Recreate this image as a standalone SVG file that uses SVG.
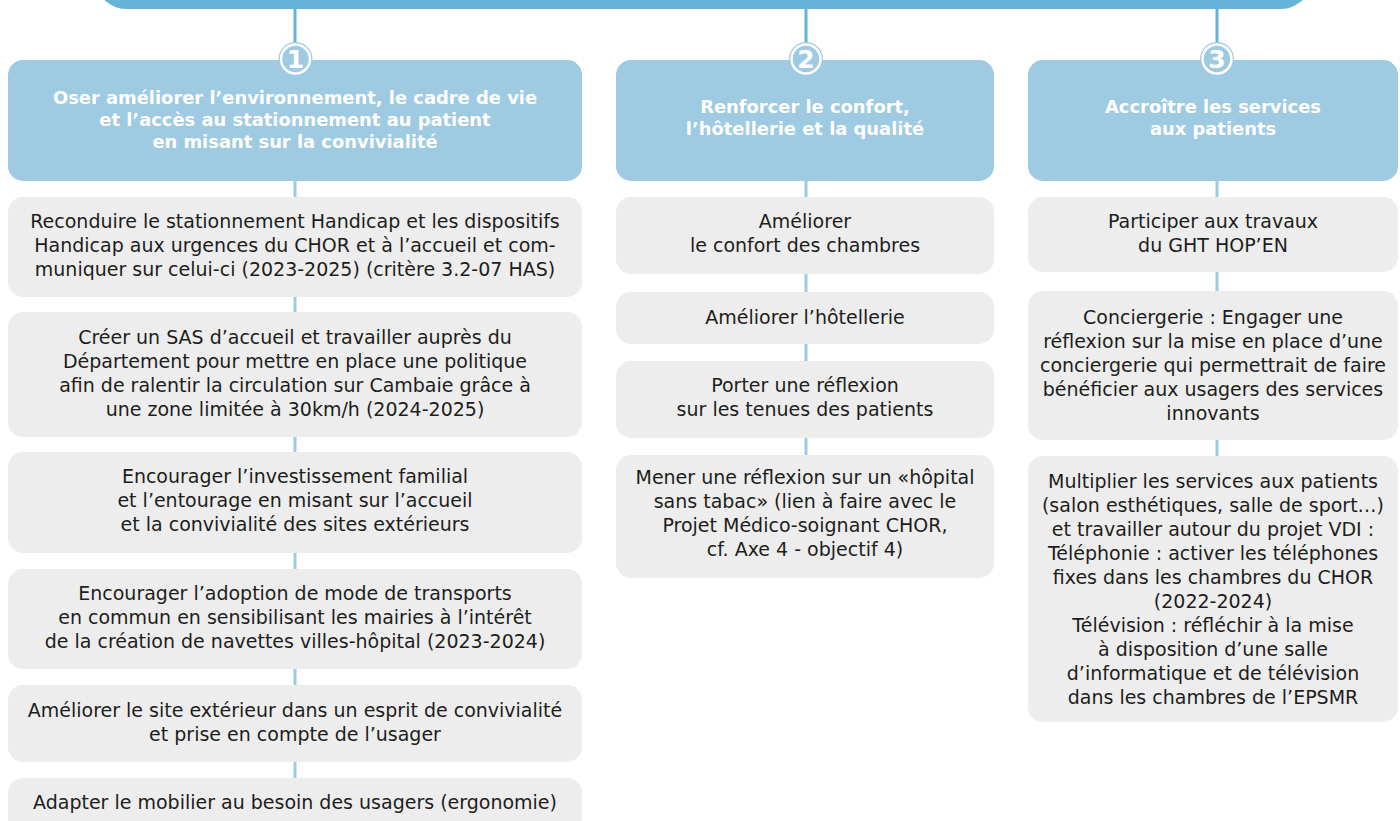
<svg xmlns="http://www.w3.org/2000/svg" width="1400" height="821" viewBox="0 0 1400 821">
<style>
.head{fill:#9ECAE2}
.item{fill:#EDEDED}
.ht{font-family:"DejaVu Sans","Liberation Sans",sans-serif;font-weight:bold;font-size:17.9px;fill:#FFFFFF;text-anchor:middle}
.bt{font-family:"DejaVu Sans","Liberation Sans",sans-serif;font-size:19px;fill:#1D1D1B;text-anchor:middle}
.num{font-family:"DejaVu Sans","Liberation Sans",sans-serif;font-weight:bold;font-size:25px;fill:#FFFFFF;text-anchor:middle}
.top{stroke:#65B3D6;stroke-width:3;fill:none}
.lnk{stroke:#9ECAE2;stroke-width:3;fill:none}
</style>
<rect id="topbar" x="98" y="-40" width="1211" height="49" rx="29" fill="#65B3D6"/>
<g id="connectors">
<line class="top" x1="295" y1="9" x2="295" y2="44"/>
<line class="top" x1="806" y1="9" x2="806" y2="44"/>
<line class="top" x1="1217" y1="9" x2="1217" y2="44"/>
<line class="lnk" x1="295" y1="181" x2="295" y2="197"/>
<line class="lnk" x1="295" y1="297" x2="295" y2="312"/>
<line class="lnk" x1="295" y1="437" x2="295" y2="452"/>
<line class="lnk" x1="295" y1="553" x2="295" y2="569"/>
<line class="lnk" x1="295" y1="669" x2="295" y2="685"/>
<line class="lnk" x1="295" y1="762" x2="295" y2="778"/>
<line class="lnk" x1="806" y1="181" x2="806" y2="197"/>
<line class="lnk" x1="806" y1="274" x2="806" y2="292"/>
<line class="lnk" x1="806" y1="344" x2="806" y2="361"/>
<line class="lnk" x1="806" y1="438" x2="806" y2="455"/>
<line class="lnk" x1="1217" y1="181" x2="1217" y2="197"/>
<line class="lnk" x1="1217" y1="272" x2="1217" y2="291"/>
<line class="lnk" x1="1217" y1="440" x2="1217" y2="456"/>
</g>
<g id="axis1">
<rect class="head" x="8" y="60" width="574" height="121" rx="15"/>
<text class="ht"><tspan x="295" y="104">Oser améliorer l’environnement, le cadre de vie</tspan><tspan x="295" y="126">et l’accès au stationnement au patient</tspan><tspan x="295" y="148">en misant sur la convivialité</tspan></text>
<circle cx="295.5" cy="59" r="17" fill="#9ECAE2"/>
<circle cx="295.5" cy="59" r="14.5" fill="#9ECAE2" stroke="#FFFFFF" stroke-width="2.5"/>
<text class="num" x="295.5" y="68">1</text>
</g>
<g id="axis2">
<rect class="head" x="616" y="60" width="378" height="121" rx="15"/>
<text class="ht"><tspan x="805" y="113">Renforcer le confort,</tspan><tspan x="805" y="135">l’hôtellerie et la qualité</tspan></text>
<circle cx="806" cy="59" r="17" fill="#9ECAE2"/>
<circle cx="806" cy="59" r="14.5" fill="#9ECAE2" stroke="#FFFFFF" stroke-width="2.5"/>
<text class="num" x="806" y="68">2</text>
</g>
<g id="axis3">
<rect class="head" x="1028" y="60" width="370" height="121" rx="15"/>
<text class="ht"><tspan x="1213" y="113">Accroître les services</tspan><tspan x="1213" y="135">aux patients</tspan></text>
<circle cx="1217" cy="59" r="17" fill="#9ECAE2"/>
<circle cx="1217" cy="59" r="14.5" fill="#9ECAE2" stroke="#FFFFFF" stroke-width="2.5"/>
<text class="num" x="1217" y="68">3</text>
</g>
<g id="c1n1">
<rect class="item" x="8" y="197" width="574" height="100" rx="15"/>
<text class="bt"><tspan x="295" y="228">Reconduire le stationnement Handicap et les dispositifs</tspan><tspan x="295" y="252">Handicap aux urgences du CHOR et à l’accueil et com-</tspan><tspan x="295" y="276">muniquer sur celui-ci (2023-2025) (critère 3.2-07 HAS)</tspan></text>
</g>
<g id="c1n2">
<rect class="item" x="8" y="312" width="574" height="125" rx="15"/>
<text class="bt"><tspan x="295" y="344">Créer un SAS d’accueil et travailler auprès du</tspan><tspan x="295" y="368">Département pour mettre en place une politique</tspan><tspan x="295" y="392">afin de ralentir la circulation sur Cambaie grâce à</tspan><tspan x="295" y="416">une zone limitée à 30km/h (2024-2025)</tspan></text>
</g>
<g id="c1n3">
<rect class="item" x="8" y="452" width="574" height="101" rx="15"/>
<text class="bt"><tspan x="295" y="483">Encourager l’investissement familial</tspan><tspan x="295" y="507">et l’entourage en misant sur l’accueil</tspan><tspan x="295" y="531">et la convivialité des sites extérieurs</tspan></text>
</g>
<g id="c1n4">
<rect class="item" x="8" y="569" width="574" height="100" rx="15"/>
<text class="bt"><tspan x="295" y="600">Encourager l’adoption de mode de transports</tspan><tspan x="295" y="624">en commun en sensibilisant les mairies à l’intérêt</tspan><tspan x="295" y="648">de la création de navettes villes-hôpital (2023-2024)</tspan></text>
</g>
<g id="c1n5">
<rect class="item" x="8" y="685" width="574" height="77" rx="15"/>
<text class="bt"><tspan x="295" y="717">Améliorer le site extérieur dans un esprit de convivialité</tspan><tspan x="295" y="741">et prise en compte de l’usager</tspan></text>
</g>
<g id="c1n6">
<rect class="item" x="8" y="778" width="574" height="70" rx="15"/>
<text class="bt" x="295" y="809">Adapter le mobilier au besoin des usagers (ergonomie)</text>
</g>
<g id="c2n1">
<rect class="item" x="616" y="197" width="378" height="77" rx="15"/>
<text class="bt"><tspan x="805" y="228">Améliorer</tspan><tspan x="805" y="252">le confort des chambres</tspan></text>
</g>
<g id="c2n2">
<rect class="item" x="616" y="292" width="378" height="52" rx="15"/>
<text class="bt" x="805" y="324">Améliorer l’hôtellerie</text>
</g>
<g id="c2n3">
<rect class="item" x="616" y="361" width="378" height="77" rx="15"/>
<text class="bt"><tspan x="805" y="392">Porter une réflexion</tspan><tspan x="805" y="416">sur les tenues des patients</tspan></text>
</g>
<g id="c2n4">
<rect class="item" x="616" y="455" width="378" height="123" rx="15"/>
<text class="bt"><tspan x="805" y="484">Mener une réflexion sur un «hôpital</tspan><tspan x="805" y="508">sans tabac» (lien à faire avec le</tspan><tspan x="805" y="532">Projet Médico-soignant CHOR,</tspan><tspan x="805" y="556">cf. Axe 4 - objectif 4)</tspan></text>
</g>
<g id="c3n1">
<rect class="item" x="1028" y="197" width="370" height="75" rx="15"/>
<text class="bt"><tspan x="1213" y="228">Participer aux travaux</tspan><tspan x="1213" y="252">du GHT HOP’EN</tspan></text>
</g>
<g id="c3n2">
<rect class="item" x="1028" y="291" width="370" height="149" rx="15"/>
<text class="bt"><tspan x="1213" y="324">Conciergerie : Engager une</tspan><tspan x="1213" y="348">réflexion sur la mise en place d’une</tspan><tspan x="1213" y="372">conciergerie qui permettrait de faire</tspan><tspan x="1213" y="396">bénéficier aux usagers des services</tspan><tspan x="1213" y="420">innovants</tspan></text>
</g>
<g id="c3n3">
<rect class="item" x="1028" y="456" width="370" height="266" rx="15"/>
<text class="bt"><tspan x="1213" y="488">Multiplier les services aux patients</tspan><tspan x="1213" y="512">(salon esthétiques, salle de sport…)</tspan><tspan x="1213" y="536">et travailler autour du projet VDI :</tspan><tspan x="1213" y="560">Téléphonie : activer les téléphones</tspan><tspan x="1213" y="584">fixes dans les chambres du CHOR</tspan><tspan x="1213" y="608">(2022-2024)</tspan><tspan x="1213" y="632">Télévision : réfléchir à la mise</tspan><tspan x="1213" y="656">à disposition d’une salle</tspan><tspan x="1213" y="680">d’informatique et de télévision</tspan><tspan x="1213" y="704">dans les chambres de l’EPSMR</tspan></text>
</g>
</svg>
